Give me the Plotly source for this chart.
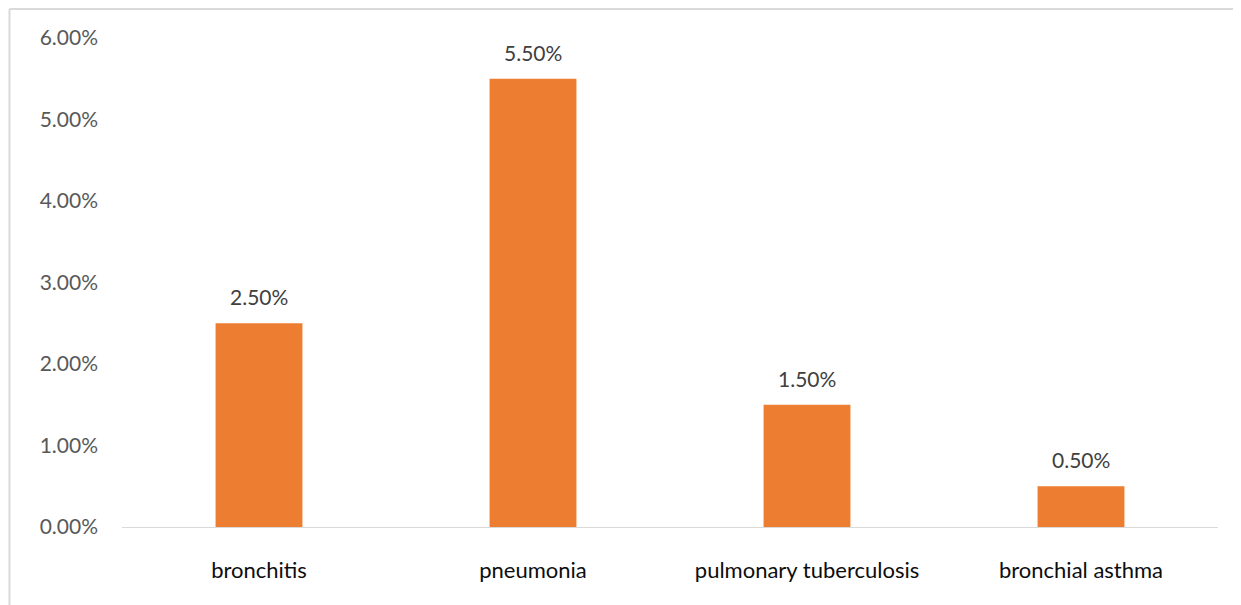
import plotly.graph_objects as go

categories = ["bronchitis", "pneumonia", "pulmonary tuberculosis", "bronchial asthma"]
values = [0.025, 0.055, 0.015, 0.005]
label_texts = ["2.50%", "5.50%", "1.50%", "0.50%"]
tick_vals = [0, 0.01, 0.02, 0.03, 0.04, 0.05, 0.06]
tick_texts = ["0.00%", "1.00%", "2.00%", "3.00%", "4.00%", "5.00%", "6.00%"]

FONT = "Lato, Noto Sans, sans-serif"
W, H = 1241, 605
OFF = 8  # default body margin of the page
L, R, T, B = 122 - OFF, 1241 + OFF - 1218, 38 - OFF, 605 + OFF - 527
pw, ph = W - L - R, H - T - B

fig = go.Figure(go.Bar(
    x=categories, y=values,
    marker=dict(color="#ED7D31", line=dict(width=0)),
    hoverinfo="x+y",
))

for c, v, t in zip(categories, values, label_texts):
    fig.add_annotation(x=c, y=v, text=t, showarrow=False, yanchor="bottom",
                       yshift=12, font=dict(family=FONT, size=21, color="#404040"))

def px_x(p):
    return (p - OFF - L) / pw

def px_y(p):
    return (H - B - (p - OFF)) / ph

fig.update_layout(
    width=W, height=H,
    margin=dict(l=L, r=R, t=T, b=B, autoexpand=False),
    paper_bgcolor="white", plot_bgcolor="white",
    bargap=0.683, showlegend=False,
    xaxis=dict(showgrid=False, showline=True, linecolor="#d9d9d9", linewidth=1,
               ticks="", ticklabelstandoff=24,
               tickfont=dict(family=FONT, size=22, color="#0d0d0d")),
    yaxis=dict(range=[0, 0.06], tickvals=tick_vals, ticktext=tick_texts, showgrid=False,
               zeroline=False, showline=False, ticks="", ticklabelstandoff=23,
               tickfont=dict(family=FONT, size=21, color="#595959")),
    shapes=[
        dict(type="line", xref="paper", yref="paper", x0=px_x(9.5), x1=px_x(1260), y0=px_y(9), y1=px_y(9),
             line=dict(color="#d9d9d9", width=2)),
        dict(type="line", xref="paper", yref="paper", x0=px_x(9.5), x1=px_x(9.5), y0=px_y(9), y1=px_y(620),
             line=dict(color="#d9d9d9", width=2)),
    ],
)

fig.write_html("out.html")
